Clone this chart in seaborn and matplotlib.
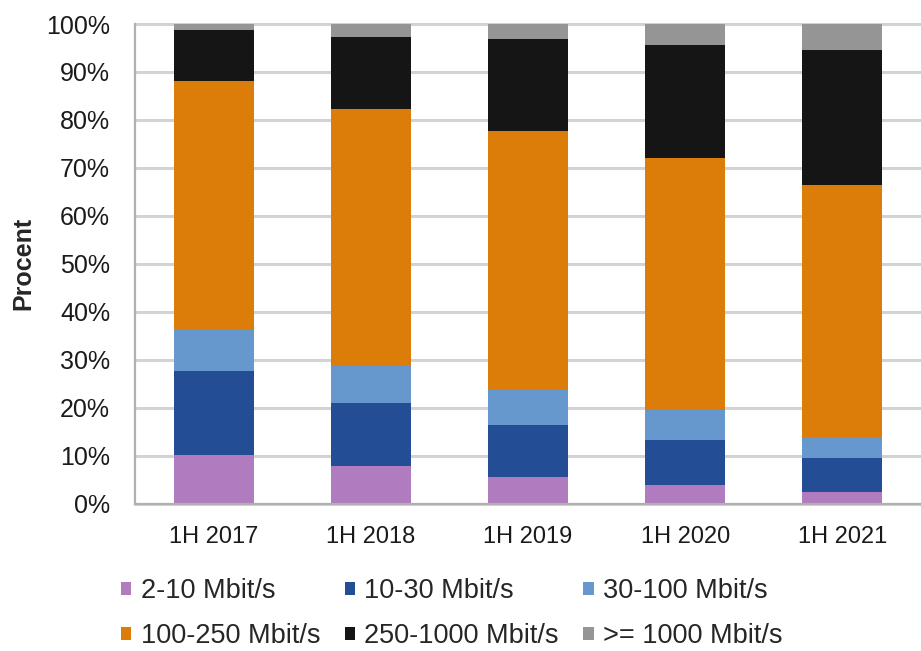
import numpy as np
import pandas as pd
import seaborn as sns
import matplotlib.pyplot as plt
from matplotlib.patches import Patch
from matplotlib.ticker import FuncFormatter

periods = ["1H 2017", "1H 2018", "1H 2019", "1H 2020", "1H 2021"]
speed_labels = ["2-10 Mbit/s", "10-30 Mbit/s", "30-100 Mbit/s",
                "100-250 Mbit/s", "250-1000 Mbit/s", ">= 1000 Mbit/s"]
speed_2_10 = [10.2, 7.8, 5.6, 3.8, 2.4]
speed_10_30 = [17.4, 13.1, 10.8, 9.4, 7.0]
speed_30_100 = [8.5, 7.8, 7.3, 6.4, 4.5]
speed_100_250 = [52.1, 53.6, 53.9, 52.5, 52.6]
speed_250_1000 = [10.5, 15.0, 19.3, 23.6, 28.1]
speed_1000 = [1.3, 2.7, 3.1, 4.3, 5.4]
colors = ["#b07cbf", "#234e96", "#6698cd", "#dc7c09", "#151515", "#959595"]

sns.set_style("white")
plt.rcParams["font.family"] = ["Liberation Sans", "DejaVu Sans"]

series = [speed_2_10, speed_10_30, speed_30_100,
          speed_100_250, speed_250_1000, speed_1000]
df = pd.DataFrame({lab: vals for lab, vals in zip(speed_labels, series)})
df["period"] = periods
cum = df[speed_labels].cumsum(axis=1)
cum["period"] = periods

fig = plt.figure(figsize=(9.21, 6.51), dpi=100)
ax = fig.add_axes([135 / 921, 1 - 503.5 / 651, 1 - 135 / 921, 479.5 / 651])

# stacked bars: draw cumulative totals from the top layer down
for lab, col in reversed(list(zip(speed_labels, colors))):
    sns.barplot(data=cum, x="period", y=lab, color=col, saturation=1,
                width=0.51, errorbar=None, ax=ax, linewidth=0)

ax.set_ylim(0, 100)
ax.set_xlim(-0.5, 4.5)
ax.set_yticks(np.arange(0, 101, 10))
ax.yaxis.set_major_formatter(FuncFormatter(lambda v, _: f"{v:.0f}%"))
ax.grid(axis="y", color="#d3d3d3", linewidth=2.2)
ax.set_axisbelow(True)
for gl in ax.yaxis.get_gridlines():
    gl.set_clip_on(False)

for side in ["top", "right"]:
    ax.spines[side].set_visible(False)
for side in ["left", "bottom"]:
    ax.spines[side].set_color("#b0b0b0")
    ax.spines[side].set_linewidth(1.6)

ax.set_xticks(np.arange(-0.5, 5, 1), minor=True)
ax.tick_params(axis="x", which="major", length=0, pad=16, labelsize=17,
               labelcolor="#1a1a1a")
ax.tick_params(axis="x", which="minor", length=6, width=1.5, color="#b0b0b0",
               direction="out")
ax.tick_params(axis="y", which="major", length=6, width=1.5, color="#b0b0b0",
               direction="out", pad=12, labelsize=18, labelcolor="#1a1a1a")

ax.set_xlabel("")
ax.set_ylabel("Procent", fontsize=18, fontweight="bold", labelpad=8)

handles = [Patch(facecolor=c, edgecolor="none", label=l)
           for l, c in zip(speed_labels, colors)]
order = [0, 3, 1, 4, 2, 5]
fig.legend([handles[i] for i in order], [speed_labels[i] for i in order],
           ncol=3, frameon=False, loc="upper left",
           bbox_to_anchor=(121 / 921, 1 - 578 / 651), fontsize=19.5,
           handlelength=0.38, handleheight=0.38, handletextpad=0.35,
           columnspacing=0.9, labelspacing=0.7, borderpad=0, borderaxespad=0)

fig.savefig("out.png", dpi=100)
